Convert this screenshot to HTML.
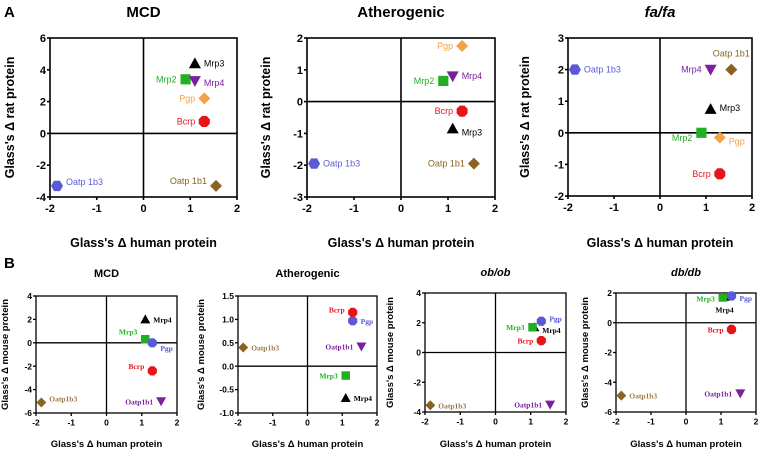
<!DOCTYPE html>
<html><head><meta charset="utf-8"><style>
body{margin:0;background:#fff;}
svg{display:block;font-family:"Liberation Sans",Arial,sans-serif;}
</style></head><body>
<svg id="fig" width="760" height="451" viewBox="0 0 760 451"></svg>
<script>
// ---- data ----
const namesA = ["Mrp3","Mrp2","Mrp4","Pgp","Bcrp","Oatp1b3","Oatp1b1"];
const a1X = [1.1,0.9,1.1,1.3,1.3,-1.85,1.55];
const a1Y = [4.4,3.4,3.3,2.2,0.75,-3.3,-3.3];
const a2X = [1.1,0.9,1.1,1.3,1.3,-1.85,1.55];
const a2Y = [-0.85,0.65,0.8,1.75,-0.3,-1.95,-1.95];
const a3X = [1.1,0.9,1.1,1.3,1.3,-1.85,1.55];
const a3Y = [0.75,0.0,2.0,-0.15,-1.3,2.0,2.0];
const namesB = ["Mrp4","Mrp3","Pgp","Bcrp","Oatp1b3","Oatp1b1"];
const b1X = [1.1,1.1,1.3,1.3,-1.85,1.55];
const b1Y = [2.0,0.3,0.0,-2.4,-5.1,-5.0];
const b2X = [1.1,1.1,1.3,1.3,-1.85,1.55];
const b2Y = [-0.68,-0.2,0.97,1.15,0.4,0.42];
const b3X = [1.1,1.05,1.3,1.3,-1.85,1.55];
const b3Y = [1.7,1.7,2.1,0.8,-3.55,-3.5];
const b4X = [1.1,1.05,1.3,1.3,-1.85,1.55];
const b4Y = [1.75,1.7,1.8,-0.45,-4.9,-4.75];
const xTicks = [-2,-1,0,1,2];
const a1YTicks = [-4,-2,0,2,4,6];
const a2YTicks = [-3,-2,-1,0,1,2];
const a3YTicks = [-2,-1,0,1,2,3];
const b1YTicks = [-6,-4,-2,0,2,4];
const b2YTicks = ["-1.0","-0.5","0.0","0.5","1.0","1.5"];
const b3YTicks = [-4,-2,0,2,4];
const b4YTicks = [-6,-4,-2,0,2];

// styles (not data)
const styleA = {Mrp3:["tri","#000"],Mrp2:["sq","#22b022"],Mrp4:["trid","#7a1f9e"],Pgp:["dia","#f2a24a"],Bcrp:["oct","#e8141c"],Oatp1b3:["hex","#5a5ad8"],Oatp1b1:["dia","#8a6320"]};
const styleB = {Mrp4:["tri","#000"],Mrp3:["sq","#22b022"],Pgp:["oct","#5a5ad8"],Bcrp:["oct","#e8141c"],Oatp1b3:["dia","#8a6320"],Oatp1b1:["trid","#7a1f9e"]};
const NS="http://www.w3.org/2000/svg";
const svg=document.getElementById('fig');
function el(tag,attrs,parent,text){const e=document.createElementNS(NS,tag);for(const k in attrs)e.setAttribute(k,attrs[k]);if(text!==undefined)e.textContent=text;(parent||svg).appendChild(e);return e;}
function shape(g,type,cx,cy,s,col){
  let p;
  if(type==="tri")p=[[0,-s],[s,s*0.8],[-s,s*0.8]];
  else if(type==="trid")p=[[-s,-s*0.8],[s,-s*0.8],[0,s]];
  else if(type==="sq")p=[[-s*.85,-s*.85],[s*.85,-s*.85],[s*.85,s*.85],[-s*.85,s*.85]];
  else if(type==="dia")p=[[0,-s],[s,0],[0,s],[-s,0]];
  else if(type==="hex"){p=[];for(let i=0;i<6;i++){const a=Math.PI/3*i;p.push([Math.cos(a)*s,Math.sin(a)*s]);}}
  else {p=[];for(let i=0;i<8;i++){const a=Math.PI/4*i+Math.PI/8;p.push([Math.cos(a)*s,Math.sin(a)*s]);}}
  const m=el('polygon',{points:p.map(q=>(cx+q[0]).toFixed(1)+','+(cy+q[1]).toFixed(1)).join(' '),fill:col},g);
  
  
}
function panel(o){
  const g=el('g',{});
  
  
  const yt=o.yTicks.map(Number);
  const ymin=Math.min(...yt),ymax=Math.max(...yt);
  const sx=v=>o.L+(v+2)/4*(o.R-o.L);
  const sy=v=>o.B-(v-ymin)/(ymax-ymin)*(o.B-o.T);
  const lw=o.big?1.6:1.3;
  el('rect',{x:o.L,y:o.T,width:o.R-o.L,height:o.B-o.T,fill:'none',stroke:'#000','stroke-width':lw},g);
  el('line',{x1:sx(0),x2:sx(0),y1:o.T,y2:o.B,stroke:'#000','stroke-width':lw},g);
  el('line',{x1:o.L,x2:o.R,y1:sy(0),y2:sy(0),stroke:'#000','stroke-width':lw},g);
  const fs=o.big?11:8.5;
  xTicks.forEach(t=>{const x=sx(t);el('line',{x1:x,x2:x,y1:o.B,y2:o.B+3,stroke:'#000','stroke-width':lw},g);
    const tx=el('text',{x:x,y:o.B+fs+4,'font-size':fs,'font-weight':'bold','text-anchor':'middle'},g,String(t));
    });
  o.yTicks.forEach(t=>{const y=sy(Number(t));el('line',{x1:o.L-3,x2:o.L,y1:y,y2:y,stroke:'#000','stroke-width':lw},g);
    const tx=el('text',{x:o.L-4,y:y+fs*0.36,'font-size':fs,'font-weight':'bold','text-anchor':'end'},g,String(t));
    });
  const tt=el('text',{x:(o.L+o.R)/2+(o.tdx||0),y:o.ty,'font-size':o.big?15:11,'font-weight':'bold','font-style':o.ital?'italic':'normal','text-anchor':'middle'},g,o.title);
  
  const xt=el('text',{x:(o.L+o.R)/2,y:o.xty,'font-size':o.big?12.5:9.5,'font-weight':'bold','text-anchor':'middle'},g,"Glass's \u0394 human protein");
  
  const yc=(o.T+o.B)/2,yx=o.ytx;
  const ytl=el('text',{x:yx,y:yc,'font-size':o.big?12.5:9.5,'font-weight':'bold','text-anchor':'middle',transform:`rotate(-90 ${yx} ${yc})`},g,o.ylab);
  
  const st=o.big?styleA:styleB, ms=o.big?6:5;
  o.names.forEach((n,i)=>{
    const x=sx(o.xs[i]),y=sy(o.ys[i]);
    shape(g,st[n][0],x,y,ms,st[n][1]);
    const lab=o.labs[i];
    let lx=x,ly=y+3,anc='start';
    if(lab[0]==='r'){lx=x+ms+3;}else if(lab[0]==='l'){lx=x-ms-3;anc='end';}else if(lab[0]==='u'){anc='middle';ly=y-ms-3;}else{anc='middle';ly=y+ms+9;}
    ly+=lab[1]||0;
    const t=el('text',{x:lx,y:ly,'font-size':o.big?9:7.5,'font-weight':o.big?'normal':'bold','font-family':o.big?'Liberation Sans, sans-serif':'Liberation Serif, serif','text-anchor':anc,fill:(!o.big&&n==='Oatp1b3')?'#9a7a40':st[n][1]},g,o.big&&n.startsWith('Oatp')?n.replace('Oatp1b','Oatp 1b'):n);
    
  });
}
const ratY="Glass's \u0394 rat protein", mouseY="Glass's \u0394 mouse protein";
panel({id:'panel-a-mcd',big:true,L:50,R:237,T:38,B:197,yTicks:a1YTicks,names:namesA,xs:a1X,ys:a1Y,title:'MCD',ty:17,xty:247,ytx:14,ylab:ratY,
  labs:[['r'],['l'],['r',2],['l'],['l'],['r',-4],['l',-5]]});
panel({id:'panel-a-atherogenic',big:true,L:307,R:495,T:38,B:197,yTicks:a2YTicks,names:namesA,xs:a2X,ys:a2Y,title:'Atherogenic',ty:17,xty:247,ytx:270,ylab:ratY,
  labs:[['r',4],['l'],['r'],['l'],['l'],['r'],['l']]});
panel({id:'panel-a-fafa',big:true,L:568,R:752,T:38,B:196,yTicks:a3YTicks,names:namesA,xs:a3X,ys:a3Y,title:'fa/fa',ital:true,ty:17,xty:247,ytx:529,ylab:ratY,
  labs:[['r',-1],['l',5],['l'],['r',4],['l'],['r'],['u',-4]]});
panel({id:'panel-b-mcd',L:36,R:177,T:296,B:413,yTicks:b1YTicks,names:namesB,xs:b1X,ys:b1Y,title:'MCD',ty:277,xty:447,ytx:8,ylab:mouseY,
  labs:[['r'],['l',-8],['r',5],['l',-5],['r',-4],['l']]});
panel({id:'panel-b-atherogenic',L:238,R:377,T:296,B:413,yTicks:b2YTicks,names:namesB,xs:b2X,ys:b2Y,title:'Atherogenic',ty:277,xty:447,ytx:204,ylab:mouseY,
  labs:[['r'],['l'],['r'],['l',-3],['r'],['l']]});
panel({id:'panel-b-obob',L:425,R:566,T:293,B:412,yTicks:b3YTicks,names:namesB,xs:b3X,ys:b3Y,title:'ob/ob',ital:true,ty:276,xty:447,ytx:393,ylab:mouseY,
  labs:[['r',3],['l'],['r',-3],['l'],['r'],['l']]});
panel({id:'panel-b-dbdb',L:616,R:756,T:293,B:412,yTicks:b4YTicks,names:namesB,xs:b4X,ys:b4Y,title:'db/db',ital:true,ty:276,xty:447,ytx:588,ylab:mouseY,
  labs:[['d',2],['l',1],['r',2],['l'],['r'],['l']]});
const la=el('text',{x:4,y:17,'font-size':15,'font-weight':'bold'},svg,'A');

const lb=el('text',{x:4,y:268,'font-size':15,'font-weight':'bold'},svg,'B');

</script>
</body></html>
